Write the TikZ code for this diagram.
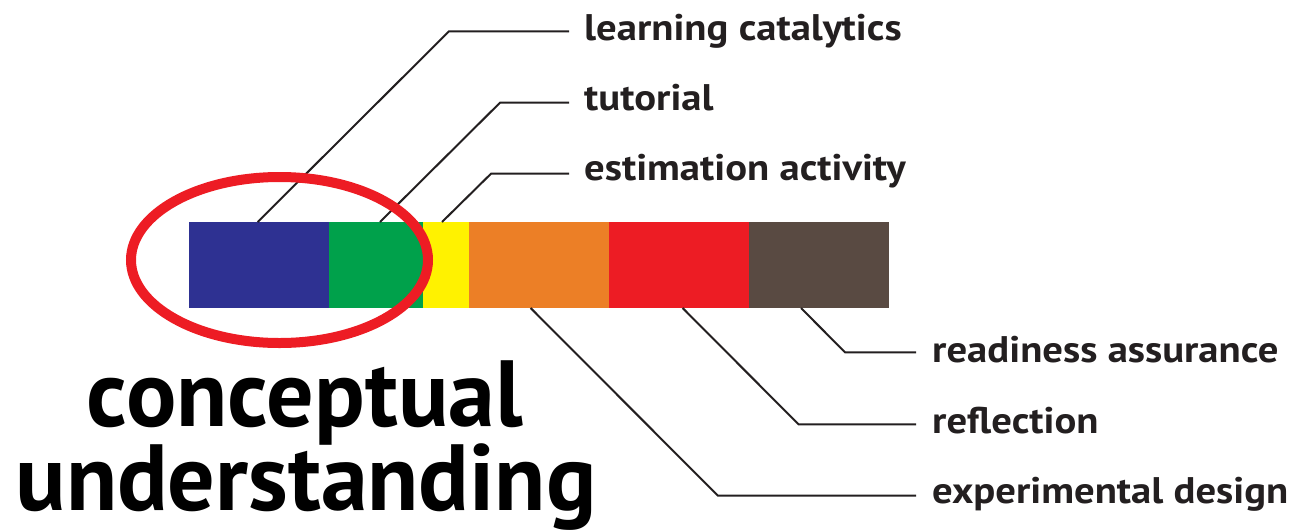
\documentclass[tikz,border=0pt]{standalone}
\usepackage{fontspec}
\setmainfont{PT Sans}
\usetikzlibrary{calc}
\definecolor{cblue}{HTML}{2E3192}
\definecolor{cgreen}{HTML}{00A14B}
\definecolor{cyellow}{HTML}{FFF200}
\definecolor{corange}{HTML}{EC7F26}
\definecolor{cred}{HTML}{ED1C24}
\definecolor{cbrown}{HTML}{594A42}
\definecolor{leadc}{HTML}{231F20}
\begin{document}
\begin{tikzpicture}[x=1pt,y=-1pt,
  seg/.style={draw=none,inner sep=0pt,outer sep=0pt,minimum height=86pt,anchor=north west},
  lead/.style={line width=2pt,draw=leadc},
  lbl/.style={anchor=base west,inner sep=0pt,text=leadc,xscale=1.1,font=\fontsize{37}{40}\selectfont\bfseries},
  big/.style={anchor=base,inner sep=0pt,text=black,font=\fontsize{94}{100}\selectfont\bfseries},
  ring/.style={draw=cred,line width=10pt}]
\useasboundingbox (0,0) rectangle (1296,531);
% bar segments
\node[seg,fill=cblue,minimum width=140pt] (blue) at (189,222) {};
\node[seg,fill=cgreen,minimum width=94pt] (green) at (329,222) {};
\node[seg,fill=cyellow,minimum width=46pt] (yellow) at (423,222) {};
\node[seg,fill=corange,minimum width=140pt] (orange) at (469,222) {};
\node[seg,fill=cred,minimum width=140pt] (redseg) at (609,222) {};
\node[seg,fill=cbrown,minimum width=140pt] (brown) at (749,222) {};
% labels
\node[lbl] (lc) at (584,40) {learning catalytics};
\node[lbl] (tu) at (584,110) {tutorial};
\node[lbl] (es) at (584,180) {estimation activity};
\node[lbl] (ra) at (932,362.7) {readiness assurance};
\node[lbl] (rf) at (932,433.3) {reflection};
\node[lbl] (ed) at (932,503.3) {experimental design};
% bends
\coordinate (blc) at (449,31.3);
\coordinate (btu) at (500,102.7);
\coordinate (bes) at (491,173.7);
\coordinate (bra) at (845,352.3);
\coordinate (brf) at (798.5,424.3);
\coordinate (bed) at (717.9,495.7);
\coordinate (elc) at (569,31.3);
\coordinate (etu) at (569,102.7);
\coordinate (ees) at (569,173.7);
\coordinate (era) at (916,352.3);
\coordinate (erf) at (916,424.3);
\coordinate (eed) at (916,495.7);
% leaders
\draw[lead] ($(blue.north west)+(68.7,0)$) -- (blc) -- (elc);
\draw[lead] ($(green.north west)+(51,0)$) -- (btu) -- (etu);
\draw[lead] ($(yellow.north west)+(19,0)$) -- (bes) -- (ees);
\draw[lead] ($(orange.south west)+(61.6,0)$) -- (bed) -- (eed);
\draw[lead] ($(redseg.south west)+(73.6,0)$) -- (brf) -- (erf);
\draw[lead] ($(brown.south west)+(52,0)$) -- (bra) -- (era);
% ring
\draw[ring] (279.5,260) ellipse [x radius=148.5pt, y radius=83pt];
% big text
\node[big] (t1) at (305,426) {conceptual};
\node[big] (t2) at (306,510.5) {understanding};
\end{tikzpicture}
\end{document}
